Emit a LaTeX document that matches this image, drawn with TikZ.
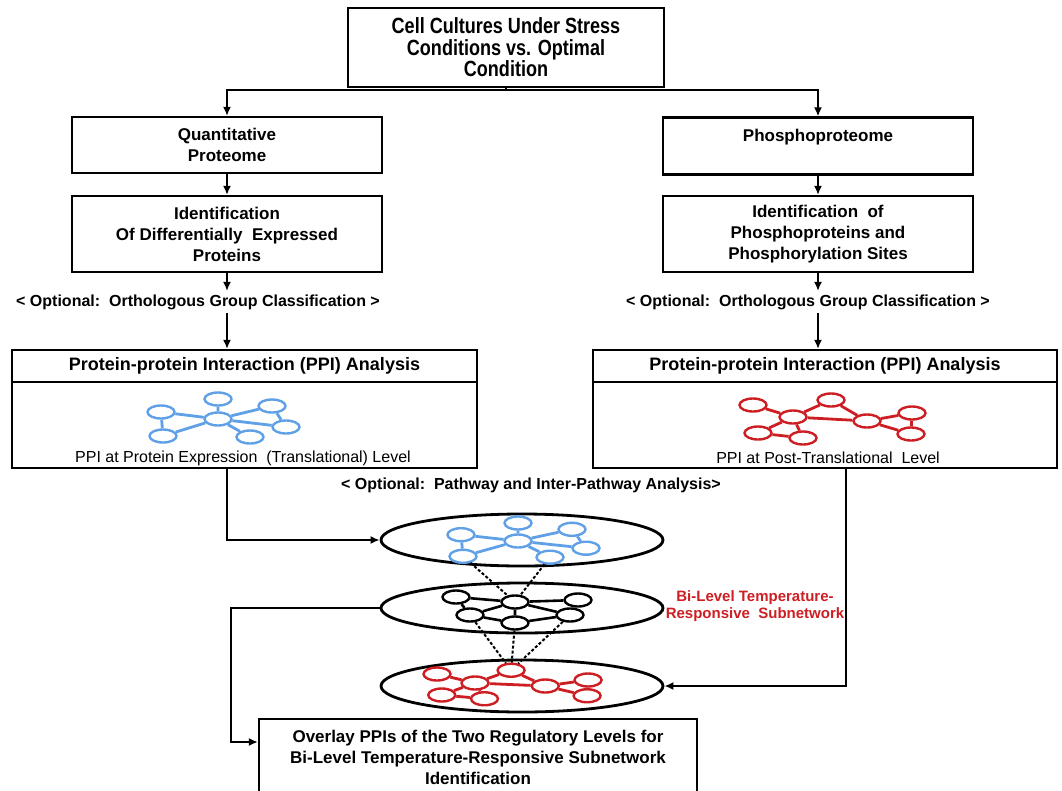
\documentclass[tikz,border=0pt]{standalone}
\usepackage{fontspec}
\setmainfont{Liberation Sans}
\newfontfamily\narrowfont{Liberation Sans}[FakeStretch=0.82]
\usetikzlibrary{positioning,calc,shapes.geometric,arrows.meta}

\definecolor{netblue}{RGB}{95,160,230}
\definecolor{netred}{RGB}{205,30,35}

\tikzset{
  pn/.style={draw, ellipse, fill=white, line width=2.4pt, minimum width=27pt,
             minimum height=13pt, inner sep=0pt},
  % blue protein network (translational level)
  bluenet/.pic={
    \node[pn, draw=netblue] (-hub) at (0,0) {};
    \node[pn, draw=netblue] (-top) at (0,-20) {};
    \node[pn, draw=netblue] (-ul) at (-57,-7) {};
    \node[pn, draw=netblue] (-ur) at (54,-13) {};
    \node[pn, draw=netblue] (-right) at (68,8) {};
    \node[pn, draw=netblue] (-ll) at (-55,17) {};
    \node[pn, draw=netblue] (-lr) at (32,18) {};
    \draw[netblue, line width=2.8pt]
      (-hub) -- (-top) (-hub) -- (-ul) (-hub) -- (-ur) (-hub) -- (-right)
      (-hub) -- (-ll) (-hub) -- (-lr) (-ul) -- (-ll) (-ur) -- (-right);
  },
  % red protein network (post-translational level)
  rednet/.pic={
    \node[pn, draw=netred] (-n1) at (-40,-12) {};
    \node[pn, draw=netred] (-n2) at (0,0) {};
    \node[pn, draw=netred] (-n3) at (38,-17) {};
    \node[pn, draw=netred] (-n4) at (74,4) {};
    \node[pn, draw=netred] (-n5) at (119,-4) {};
    \node[pn, draw=netred] (-n6) at (118,17) {};
    \node[pn, draw=netred] (-n7) at (-35,16) {};
    \node[pn, draw=netred] (-n8) at (10,21) {};
    \draw[netred, line width=2.8pt]
      (-n1) -- (-n2) (-n2) -- (-n3) (-n3) -- (-n4) (-n2) -- (-n4)
      (-n4) -- (-n5) (-n4) -- (-n6) (-n5) -- (-n6) (-n2) -- (-n7)
      (-n2) -- (-n8) (-n7) -- (-n8);
  },
  % black overlay network
  blacknet/.pic={
    \node[pn] (-hub) at (0,0) {};
    \node[pn] (-tl) at (-59,-5) {};
    \node[pn] (-rt) at (63,-2) {};
    \node[pn] (-left) at (-45,13) {};
    \node[pn] (-right) at (55,13) {};
    \node[pn] (-bottom) at (0,21) {};
    \draw[line width=2.6pt]
      (-tl) -- (-hub) (-tl) -- (-left) (-hub) -- (-rt) (-hub) -- (-right)
      (-hub) -- (-bottom) (-hub) -- (-left) (-left) -- (-bottom)
      (-bottom) -- (-right);
  },
}

\begin{document}
\begin{tikzpicture}[x=1pt, y=-1pt,
    box/.style={draw, line width=2.2pt, align=center, inner sep=2pt,
                font=\fontsize{17}{21}\selectfont\bfseries},
    note/.style={font=\fontsize{16}{19}\selectfont\bfseries},
    arr/.style={line width=2.2pt, -{Latex[length=9pt,width=8pt]}},
    layer/.style={draw, ellipse, line width=2.8pt, minimum width=282pt,
                  minimum height=52pt, inner sep=0pt},
  ]
  \useasboundingbox (0,0) rectangle (1062,790);

  % top of the workflow
  \node[box, minimum width=316pt, minimum height=79pt,
        font=\narrowfont\fontsize{22}{21.5}\selectfont\bfseries] (cult) at (506,47.5)
    {Cell Cultures Under Stress\\Conditions vs. Optimal\\Condition};

  \node[box, minimum width=310pt, minimum height=56pt] (quant) at (227,145)
    {Quantitative\\Proteome};
  \node[box, minimum width=310pt, minimum height=57pt] (phos) at (818,146)
    {Phosphoproteome\\\mbox{}};
  \node[box, minimum width=310pt, minimum height=76pt] (identL) at (227,234)
    {Identification\\Of Differentially\ \ Expressed\\Proteins};
  \node[box, minimum width=310pt, minimum height=76pt] (identR) at (818,234)
    {Identification\ \ of\\Phosphoproteins and\\Phosphorylation Sites};

  \node[note] (optL) at (198,302) {< Optional:\ \ Orthologous Group Classification >};
  \node[note] (optR) at (808,302) {< Optional:\ \ Orthologous Group Classification >};

  % PPI analysis boxes
  \node[box, minimum width=465pt, minimum height=32pt,
        font=\fontsize{18}{21}\selectfont\bfseries] (hdrL) at (244.5,366)
    {Protein-protein Interaction (PPI) Analysis};
  \node[draw, line width=2.2pt, minimum width=465pt, minimum height=86pt]
    (bodyL) at (244.5,425) {};
  \node[font=\fontsize{16}{18}\selectfont] (capL) at (243,458)
    {PPI at Protein Expression\ \ (Translational) Level};
  \pic (netL) at (218,419) {bluenet};

  \node[box, minimum width=464pt, minimum height=32pt,
        font=\fontsize{18}{21}\selectfont\bfseries] (hdrR) at (825,366)
    {Protein-protein Interaction (PPI) Analysis};
  \node[draw, line width=2.2pt, minimum width=464pt, minimum height=86pt]
    (bodyR) at (825,425) {};
  \node[font=\fontsize{16}{18}\selectfont] (capR) at (828,458)
    {PPI at Post-Translational\ \ Level};
  \pic (netR) at (793,417) {rednet};

  \node[note] (path) at (531,485) {< Optional:\ \ Pathway and Inter-Pathway Analysis>};

  % stacked layers
  \node[layer] (el1) at (522,540) {};
  \node[layer, minimum height=50pt] (el2) at (522,608) {};
  \node[layer] (el3) at (522,686) {};
  \pic[yscale=0.9] (netA) at (518,541) {bluenet};
  \pic (netK) at (515,602) {blacknet};
  \pic[yscale=0.75, xscale=0.95] (netC) at (475,683) {rednet};

  \draw[line width=2pt, dash pattern=on 3pt off 2pt]
    (netA-ll) -- (netK-hub) (netA-lr) -- (netK-hub)
    (netK-left) -- (netC-n3) (netK-bottom) -- (netC-n3) (netK-right) -- (netC-n3);

  \node[font=\fontsize{15}{17}\selectfont\bfseries, text=netred, align=center]
    (bilab) at (755,606) {Bi-Level Temperature-\\Responsive\ \ Subnetwork};

  \node[box, minimum width=438pt, minimum height=76pt,
        font=\fontsize{17}{21}\selectfont\bfseries] (final) at (478,757)
    {Overlay PPIs of the Two Regulatory Levels for\\Bi-Level Temperature-Responsive Subnetwork\\Identification};

  % connectors
  \draw[arr] (cult.south) -- ++(0,2) -| (quant.north);
  \draw[arr] (cult.south) -- ++(0,2) -| (phos.north);
  \draw[arr] (quant) -- (identL);
  \draw[arr] (phos) -- (identR);
  \draw[arr] (identL.south) -- (identL.south |- optL.north);
  \draw[arr] (identL.south |- optL.south) -- (identL.south |- hdrL.north);
  \draw[arr] (identR.south) -- (identR.south |- optR.north);
  \draw[arr] (identR.south |- optR.south) -- (identR.south |- hdrR.north);
  \draw[arr] (identL.south |- bodyL.south) |- (el1.west);
  \draw[arr] ([xshift=21pt]bodyR.south) |- (el3.east);
  \draw[arr] (el2.west) -- ++(-149,0) |- ([yshift=15pt]final.west);
\end{tikzpicture}
\end{document}
